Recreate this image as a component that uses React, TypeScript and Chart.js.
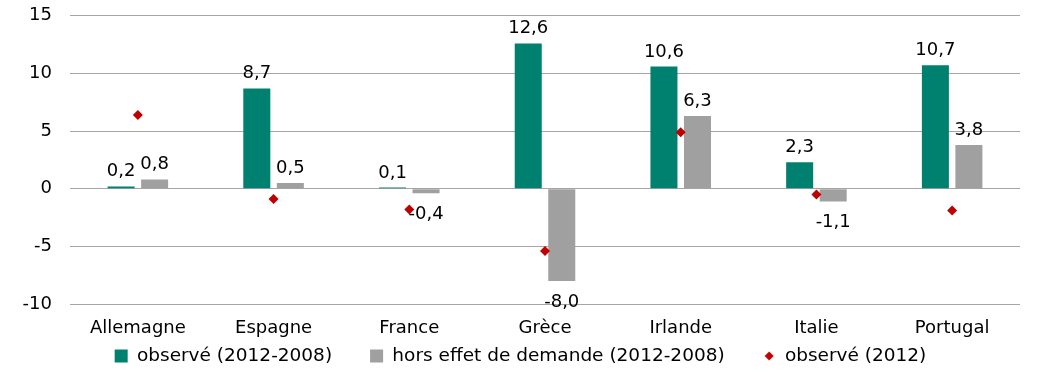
import React, { useEffect, useRef } from "react";
import { Chart, registerables } from "chart.js";

Chart.register(...registerables);

const categories = ["Allemagne", "Espagne", "France", "Grèce", "Irlande", "Italie", "Portugal"];
const observed20122008 = [0.2, 8.7, 0.1, 12.6, 10.6, 2.3, 10.7];
const horsEffet20122008 = [0.8, 0.5, -0.4, -8.0, 6.3, -1.1, 3.8];
const observed2012 = [6.4, -0.9, -1.8, -5.4, 4.9, -0.5, -1.9];
const seriesNames = ["observé (2012-2008)", "hors effet de demande (2012-2008)", "observé (2012)"];
const yTicks = { min: -10, max: 15, step: 5 };

const GREEN = "#00806E";
const GRAY = "#A0A0A0";
const RED = "#C00000";
const FONT = "'DejaVu Sans', Verdana, sans-serif";

const fmt = (v: number) => v.toFixed(1).replace(".", ",");

const barLabels = {
  id: "barLabels",
  afterDatasetsDraw(chart: any) {
    const ctx = chart.ctx;
    ctx.save();
    ctx.font = `18px ${FONT}`;
    ctx.fillStyle = "#000";
    ctx.textAlign = "center";
    ctx.textBaseline = "alphabetic";
    [0, 1].forEach((di) => {
      const meta = chart.getDatasetMeta(di);
      const data = chart.data.datasets[di].data as number[];
      meta.data.forEach((el: any, i: number) => {
        const v = data[i];
        if (v >= 0) {
          ctx.fillText(fmt(v), el.x, el.y - 10);
        } else {
          ctx.fillText(fmt(v), el.x, el.y + 26);
        }
      });
    });
    ctx.restore();
  },
};

function makeDiamondIcon(): HTMLCanvasElement {
  const c = document.createElement("canvas");
  c.width = 10;
  c.height = 10;
  const g = c.getContext("2d")!;
  g.fillStyle = RED;
  g.beginPath();
  g.moveTo(5, 0.5);
  g.lineTo(9.5, 5);
  g.lineTo(5, 9.5);
  g.lineTo(0.5, 5);
  g.closePath();
  g.fill();
  return c;
}

export default function App() {
  const canvasRef = useRef<HTMLCanvasElement | null>(null);

  useEffect(() => {
    document.body.style.margin = "0";
    const diamondIcon = makeDiamondIcon();
    const chart = new Chart(canvasRef.current!, {
      type: "bar",
      data: {
        labels: categories,
        datasets: [
          {
            label: seriesNames[0],
            data: observed20122008,
            backgroundColor: GREEN,
            categoryPercentage: 0.494,
            barPercentage: 0.806,
            order: 2,
          },
          {
            label: seriesNames[1],
            data: horsEffet20122008,
            backgroundColor: GRAY,
            categoryPercentage: 0.494,
            barPercentage: 0.806,
            order: 2,
          },
          {
            type: "line",
            label: seriesNames[2],
            data: observed2012,
            showLine: false,
            pointStyle: "rectRot",
            pointRadius: 5,
            pointBackgroundColor: RED,
            pointBorderColor: RED,
            pointBorderWidth: 0,
            backgroundColor: RED,
            borderColor: RED,
            order: 1,
          } as any,
        ],
      },
      options: {
        animation: false,
        responsive: true,
        maintainAspectRatio: false,
        layout: { padding: { top: 14.5, right: 22, bottom: 8.75, left: 21 } },
        plugins: {
          tooltip: { enabled: false },
          legend: {
            position: "bottom",
            labels: {
              usePointStyle: true,
              boxWidth: 13,
              boxHeight: 13,
              padding: 38,
              color: "#000",
              font: { family: FONT, size: 18.5 },
              generateLabels: (ch: any) =>
                ch.data.datasets.map((ds: any, i: number) => ({
                  text: ds.label,
                  fillStyle: i === 0 ? GREEN : i === 1 ? GRAY : RED,
                  strokeStyle: i === 0 ? GREEN : i === 1 ? GRAY : RED,
                  lineWidth: 0,
                  pointStyle: i === 2 ? diamondIcon : "rect",
                  datasetIndex: i,
                  hidden: false,
                  fontColor: "#000",
                })),
            },
          },
        },
        scales: {
          x: {
            grid: { display: false, drawTicks: false },
            border: { display: false },
            ticks: {
              color: "#000",
              font: { family: FONT, size: 18 },
              mirror: true,
              padding: -34.8,
              maxRotation: 0,
              autoSkip: false,
            },
            afterFit: (s: any) => {
              s.height = 4.75;
            },
          },
          y: {
            min: yTicks.min,
            max: yTicks.max,
            grid: {
              color: "#A6A6A6",
              lineWidth: 1,
              drawTicks: true,
              tickLength: 13,
              tickColor: "rgba(0,0,0,0)",
            },
            border: { display: false },
            ticks: {
              stepSize: yTicks.step,
              color: "#000",
              font: { family: FONT, size: 18 },
              padding: 5,
            },
            afterFit: (s: any) => {
              s.width = 49;
            },
          },
        },
      },
      plugins: [barLabels],
    });
    return () => chart.destroy();
  }, []);

  return (
    <div style={{ position: "fixed", left: 0, top: 0, width: 1042, height: 384 }}>
      <canvas ref={canvasRef} />
    </div>
  );
}
